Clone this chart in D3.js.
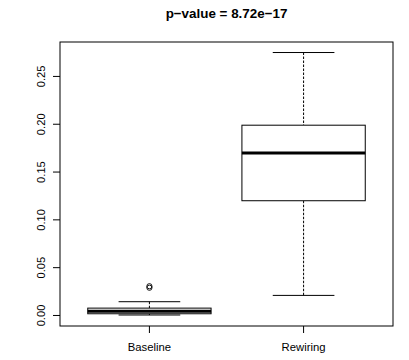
<!DOCTYPE html>
<html>
<head>
<meta charset="utf-8">
<script src="https://cdn.jsdelivr.net/npm/d3@7"></script>
<style>
  body { margin: 0; background: #fff; }
  text { font-family: "Liberation Sans", Arial, Helvetica, sans-serif; fill: #000; }
</style>
</head>
<body>
<div id="chart"></div>
<script>
// boxplot stats
const groups = ['Baseline', 'Rewiring'];
const lowerWhisker = [0.0005, 0.021];
const q1 = [0.0018, 0.120];
const median = [0.0045, 0.170];
const q3 = [0.0077, 0.199];
const upperWhisker = [0.0144, 0.275];
const outliers = [[0.0290, 0.0306], []];
const yTicks = [0, 0.05, 0.10, 0.15, 0.20, 0.25];
const title = 'p\u2212value = 8.72e\u221217';

const W = 409, H = 360;
const plot = { left: 60, right: 393, top: 42, bottom: 326 };

const svg = d3.select('#chart').append('svg')
    .attr('width', W).attr('height', H);

// R style 4% padding
const lo = 0, hi = d3.max(upperWhisker);
const pad = (hi - lo) * 0.04;
const y = d3.scaleLinear().domain([lo - pad, hi + pad]).range([plot.bottom, plot.top]);
const x = d3.scaleLinear().domain([0.42, 2.58]).range([plot.left, plot.right]);
const unit = x(2) - x(1);
const boxW = unit * 0.8;
const capW = boxW / 2;

svg.append('text')
    .attr('x', (plot.left + plot.right) / 2)
    .attr('y', 18)
    .attr('text-anchor', 'middle')
    .attr('font-weight', 'bold')
    .attr('font-size', '13.4px')
    .text(title);

const g = svg.append('g');

groups.forEach((name, i) => {
    const cx = x(i + 1);
    // whiskers
    g.append('line')
        .attr('x1', cx).attr('x2', cx)
        .attr('y1', y(upperWhisker[i])).attr('y2', y(q3[i]))
        .attr('stroke', '#000').attr('stroke-dasharray', '2.5,1.5');
    g.append('line')
        .attr('x1', cx).attr('x2', cx)
        .attr('y1', y(q1[i])).attr('y2', y(lowerWhisker[i]))
        .attr('stroke', '#000').attr('stroke-dasharray', '2.5,1.5');
    [upperWhisker[i], lowerWhisker[i]].forEach(v => {
        g.append('line')
            .attr('x1', cx - capW / 2).attr('x2', cx + capW / 2)
            .attr('y1', y(v)).attr('y2', y(v))
            .attr('stroke', '#000');
    });
    // box
    g.append('rect')
        .attr('x', cx - boxW / 2).attr('width', boxW)
        .attr('y', y(q3[i])).attr('height', y(q1[i]) - y(q3[i]))
        .attr('fill', '#fff').attr('stroke', '#000');
    g.append('line')
        .attr('x1', cx - boxW / 2).attr('x2', cx + boxW / 2)
        .attr('y1', y(median[i])).attr('y2', y(median[i]))
        .attr('stroke', '#000').attr('stroke-width', 3);
    outliers[i].forEach(v => {
        g.append('circle')
            .attr('cx', cx).attr('cy', y(v)).attr('r', 2.6)
            .attr('fill', 'none').attr('stroke', '#000').attr('stroke-width', 0.9);
    });
});

// frame
svg.append('rect')
    .attr('x', plot.left).attr('y', plot.top)
    .attr('width', plot.right - plot.left).attr('height', plot.bottom - plot.top)
    .attr('fill', 'none').attr('stroke', '#000');

// y axis ticks
const ya = svg.append('g');
yTicks.forEach(t => {
    ya.append('line')
        .attr('x1', plot.left).attr('x2', plot.left - 7)
        .attr('y1', y(t)).attr('y2', y(t))
        .attr('stroke', '#000');
    ya.append('text')
        .attr('transform', `translate(44.5,${y(t)}) rotate(-90)`)
        .attr('text-anchor', 'middle')
        .attr('font-size', '11.2px')
        .text(d3.format('.2f')(t));
});

// x axis ticks
const xa = svg.append('g');
groups.forEach((name, i) => {
    xa.append('line')
        .attr('x1', x(i + 1)).attr('x2', x(i + 1))
        .attr('y1', plot.bottom).attr('y2', plot.bottom + 7)
        .attr('stroke', '#000');
    xa.append('text')
        .attr('x', x(i + 1)).attr('y', 351)
        .attr('text-anchor', 'middle')
        .attr('font-size', '11.3px')
        .text(name);
});
</script>
</body>
</html>
